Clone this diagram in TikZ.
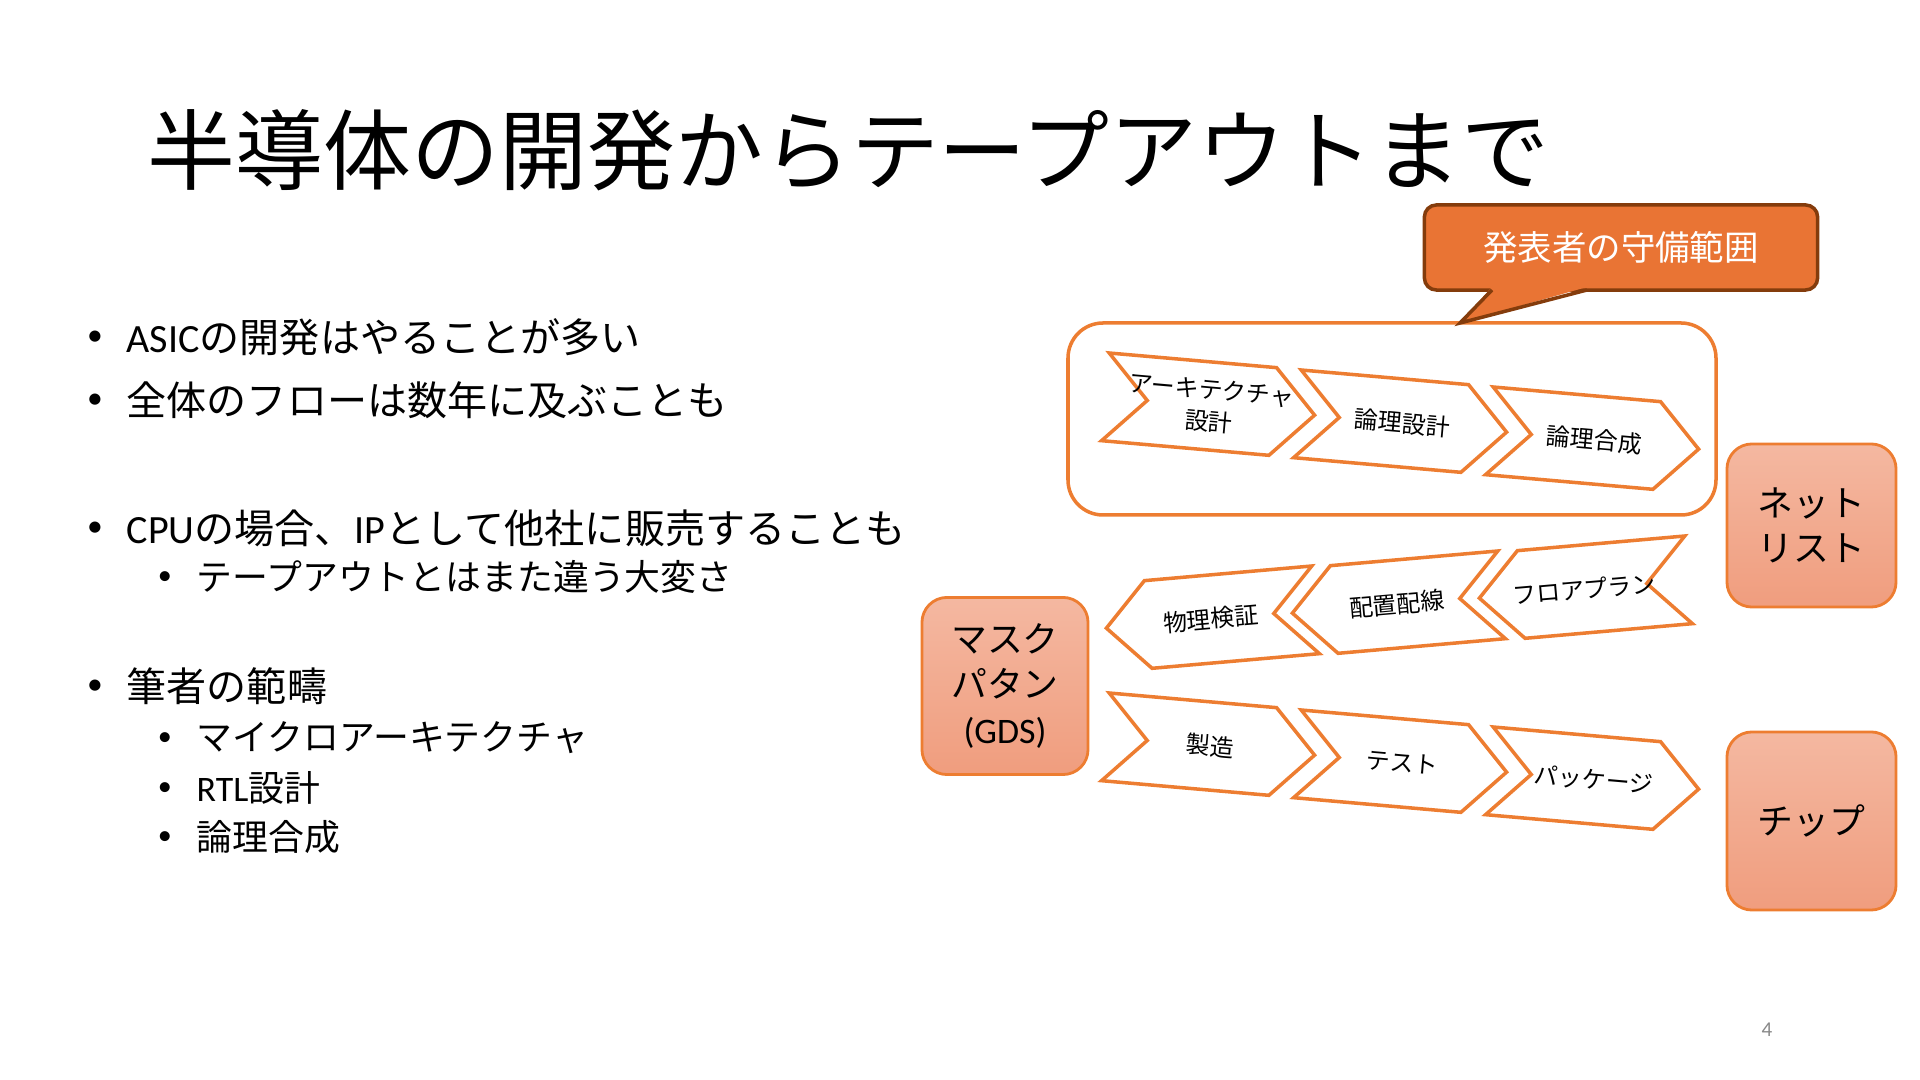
\documentclass[tikz,border=0pt]{standalone}
\usepackage{fontspec}
\setmainfont{Noto Sans CJK JP}
\newfontfamily\lat{Carlito}
\definecolor{accent}{HTML}{ED7D31}
\definecolor{calloutfill}{HTML}{E97434}
\definecolor{calloutline}{HTML}{843C0C}
\definecolor{boxtop}{HTML}{F4B8A1}
\definecolor{boxbottom}{HTML}{F09D7E}
\definecolor{pagegray}{HTML}{898989}

\tikzset{
  chevline/.style={draw=accent, line width=1pt, fill=white},
  chevtext/.style={font=\fontsize{6.8}{9}\selectfont, align=center, inner sep=0pt},
  stagebox/.style={draw=accent, line width=0.8pt, rounded corners=0.25cm,
    top color=boxtop, bottom color=boxbottom, align=center,
    font=\fontsize{10.2}{13}\selectfont, inner sep=0pt},
  lvlone/.style={anchor=west, inner sep=0pt, font=\fontsize{11.4}{14}\selectfont},
  lvltwo/.style={anchor=west, inner sep=0pt, font=\fontsize{10.2}{13}\selectfont},
  dotone/.style={inner sep=0pt, font=\lat\fontsize{9}{11}\selectfont},
  dottwo/.style={inner sep=0pt, font=\lat\fontsize{8}{10}\selectfont},
}

% chevron: name, centre, angle, direction (1 right / -1 left), text
\newcommand{\chevron}[5]{%
  \draw[chevline, shift={#2}, rotate=#3, xscale=#4]
    (-105,-44) -- (63,-44) -- (105,0) -- (63,44) -- (-105,44) -- (-63,0) -- cycle;
  \node[chevtext, rotate=#3] (#1) at #2 {#5};
}

\begin{document}
\begin{tikzpicture}[x=0.01cm, y=-0.01cm]
\useasboundingbox (0,0) rectangle (1920,1080);

% title
\node[anchor=west, inner sep=0pt, font=\fontsize{25}{30}\selectfont] (title) at (147,150) {半導体の開発からテープアウトまで};

% bullets
\node[dotone] (d1) at (95,338) {•};
\node[lvlone] (t1) at (126,337) {{\lat ASIC}の開発はやることが多い};
\node[dotone] (d2) at (95,401) {•};
\node[lvlone] (t2) at (126,400) {全体のフローは数年に及ぶことも};
\node[dotone] (d3) at (95,529) {•};
\node[lvlone] (t3) at (126,528) {{\lat CPU}の場合、{\lat IP}として他社に販売することも};
\node[dottwo] (d4) at (165,578) {•};
\node[lvltwo] (t4) at (196,577) {テープアウトとはまた違う大変さ};
\node[dotone] (d5) at (95,687) {•};
\node[lvlone] (t5) at (126,686) {筆者の範疇};
\node[dottwo] (d6) at (165,739) {•};
\node[lvltwo] (t6) at (196,738) {マイクロアーキテクチャ};
\node[dottwo] (d7) at (165,789) {•};
\node[lvltwo] (t7) at (196,788) {{\lat RTL}設計};
\node[dottwo] (d8) at (165,838) {•};
\node[lvltwo] (t8) at (196,837) {論理合成};

% frame round the front end
\draw[accent, line width=1pt, rounded corners=0.35cm] (1068,323) rectangle (1716,515);

% callout
\node[fill=calloutfill, draw=calloutline, line width=1pt, rounded corners=0.12cm,
  minimum width=3.93cm, minimum height=0.85cm, inner sep=0pt, text=white,
  font=\fontsize{9.8}{12}\selectfont] (scope) at (1621,247.5) {発表者の守備範囲};
\fill[calloutfill] (1492,287) -- (1460,323) -- (1587,287) -- cycle;
\draw[calloutline, line width=1pt, line join=miter] (1492,290) -- (1460,323) -- (1587,290);

% flow
\chevron{arch}{(1210,406)}{-5}{1}{アーキテクチャ\\設計}
\chevron{rtl}{(1402,423)}{-5}{1}{論理設計}
\chevron{synth}{(1594,440)}{-5}{1}{論理合成}
\chevron{verify}{(1211,619)}{5}{-1}{物理検証}
\chevron{pnr}{(1397,604)}{5}{-1}{配置配線}
\chevron{floor}{(1584,589)}{5}{-1}{フロアプラン}
\chevron{fab}{(1210,746)}{-5}{1}{製造}
\chevron{test}{(1402,763)}{-5}{1}{テスト}
\chevron{pkg}{(1594,780)}{-5}{1}{パッケージ}

% products
\node[stagebox, minimum width=1.66cm, minimum height=1.77cm] (mask) at (1005,686) {マスク\\パタン\\{\lat (GDS)}};
\node[stagebox, minimum width=1.69cm, minimum height=1.63cm] (netlist) at (1811.5,525.5) {ネット\\リスト};
\node[stagebox, minimum width=1.69cm, minimum height=1.78cm] (chip) at (1811.5,821) {チップ};

% page number
\node[font=\lat\fontsize{6}{7}\selectfont, text=pagegray, inner sep=0pt] (pnum) at (1767,1030) {4};
\end{tikzpicture}
\end{document}
